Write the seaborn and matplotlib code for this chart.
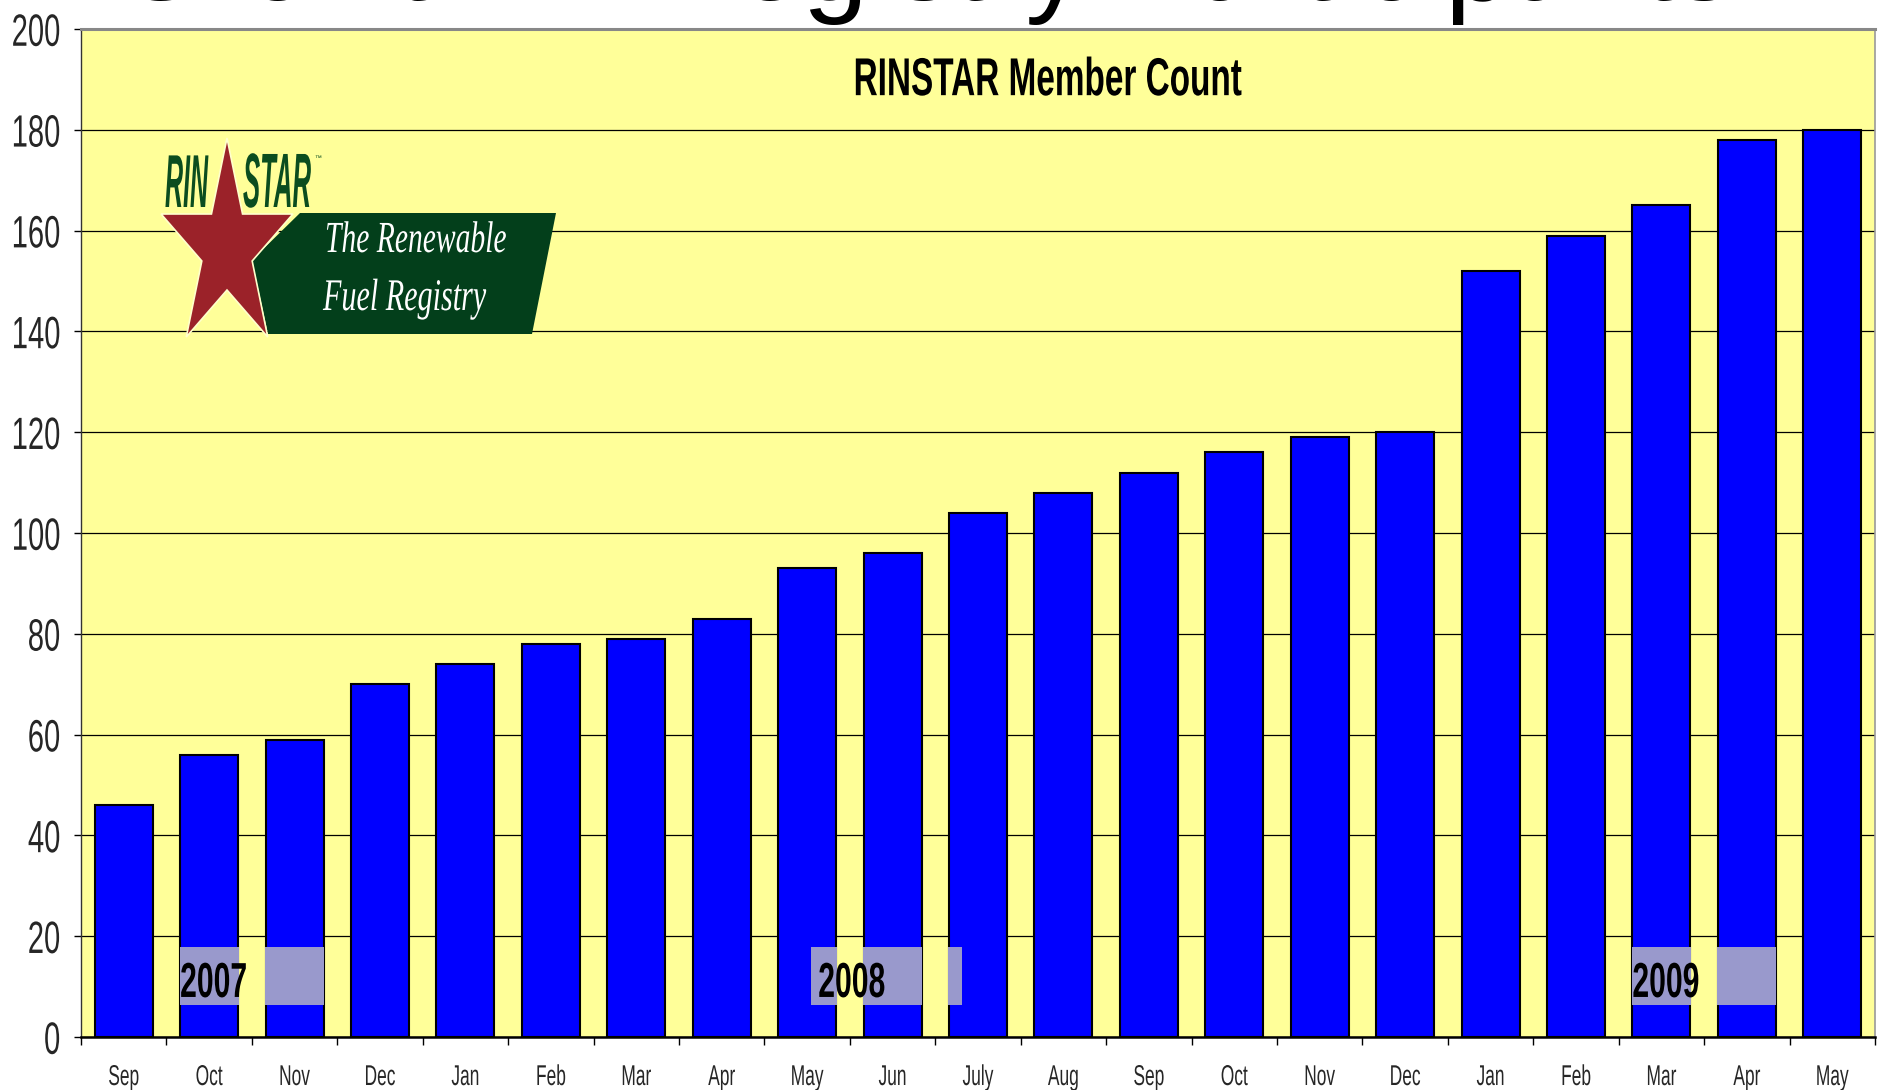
import numpy as np
import pandas as pd
import seaborn as sns
import matplotlib.pyplot as plt
from matplotlib.patches import Polygon, Rectangle
from matplotlib.transforms import Affine2D
from matplotlib import patheffects

# data
months = ['Sep', 'Oct', 'Nov', 'Dec', 'Jan', 'Feb', 'Mar', 'Apr', 'May', 'Jun', 'July', 'Aug',
          'Sep', 'Oct', 'Nov', 'Dec', 'Jan', 'Feb', 'Mar', 'Apr', 'May']
month_years = [2007] * 4 + [2008] * 12 + [2009] * 5
members = [46, 56, 59, 70, 74, 78, 79, 83, 93, 96, 104, 108,
           112, 116, 119, 120, 152, 159, 165, 178, 180]
yticks = list(range(0, 201, 20))
year_labels = ['2007', '2008', '2009']

# layout of the year tags (category units)
year_box_x = [(0.66, 2.34), (8.05, 9.81), (17.66, 19.34)]
year_box_y = (6.4, 17.8)
year_text_dx = [0.0, 0.08, 0.0]


class Stretch(patheffects.AbstractPathEffect):
    """Draw text taller than wide, like the squeezed original picture."""
    def __init__(self, sy=1.6, c=36):
        super().__init__()
        self.sy, self.c = sy, c

    def draw_path(self, renderer, gc, tpath, affine, rgbFace=None):
        t = Affine2D().translate(0, -self.c).scale(1, self.sy).translate(0, self.c)
        renderer.draw_path(gc, tpath, t + affine, rgbFace)


df = pd.DataFrame({
    'period': [f'{m} {y}' for m, y in zip(months, month_years)],
    'members': members,
})

sns.set_theme(style='white')
sans = ['Liberation Sans', 'DejaVu Sans']
serif = ['Liberation Serif', 'DejaVu Serif']
plt.rcParams['font.family'] = sans

W, H = 1878, 1090
fig = plt.figure(figsize=(W / 100, H / 100), dpi=100)
fig.patch.set_facecolor('white')
ax = fig.add_axes([81 / W, (H - 1037) / H, 1794 / W, 1008 / H])
ax.set_facecolor('#FFFF99')

sns.barplot(data=df, x='period', y='members', order=df['period'], color='#0000FF',
            saturation=1, width=0.68, edgecolor='black', linewidth=1.5, ax=ax, zorder=3)

ax.set_ylim(0, 200)
ax.set_xlim(-0.5, len(months) - 0.5)
ax.set_yticks(yticks)
ax.set_yticklabels([str(v) for v in yticks], fontsize=21)
ax.yaxis.grid(True, color='black', linewidth=0.9)
ax.set_axisbelow(True)

# ticks sit between categories, labels at the centres
ax.set_xticks(np.arange(-0.5, len(months), 1))
ax.set_xticklabels([])
ax.set_xticks(np.arange(len(months)), minor=True)
ax.set_xticklabels(months, minor=True, fontsize=12.5)
ax.tick_params(axis='x', which='major', direction='out', length=6, width=1, color='black', bottom=True)
ax.tick_params(axis='x', which='minor', length=0, pad=23)
ax.tick_params(axis='y', direction='out', length=5, width=1, color='black', left=True, pad=10)
ax.set_xlabel('')
ax.set_ylabel('')
for lbl in ax.get_yticklabels():
    lbl.set_path_effects([Stretch(1.55)])
for lbl in ax.get_xticklabels(minor=True):
    lbl.set_path_effects([Stretch(1.65)])

ax.spines['top'].set_color('#888888')
ax.spines['top'].set_linewidth(2.2)
ax.spines['right'].set_color('#999999')
ax.spines['right'].set_linewidth(1.2)
ax.spines['left'].set_color('#333333')
ax.spines['left'].set_linewidth(1)
ax.spines['bottom'].set_color('black')
ax.spines['bottom'].set_linewidth(1.8)

ax.text(0.539, 0.9415, 'RINSTAR Member Count', transform=ax.transAxes, ha='center', va='baseline',
        fontsize=24, fontweight='bold', color='black', family=sans,
        path_effects=[Stretch(1.6)])

# year tags: grey only where they cross a bar
bars = [p for p in ax.patches if isinstance(p, Rectangle)]
for label, (x0, x1), dx in zip(year_labels, year_box_x, year_text_dx):
    for b in bars:
        bl, br = b.get_x(), b.get_x() + b.get_width()
        lo, hi = max(x0, bl - 0.01), min(x1, br + 0.01)
        if hi > lo:
            ax.add_patch(Rectangle((lo, year_box_y[0]), hi - lo, year_box_y[1] - year_box_y[0],
                                   facecolor='#9999CC', edgecolor='none', zorder=4))
    ax.text(x0 + dx, 9.3, label, ha='left', va='baseline', fontsize=21.7,
            fontweight='bold', color='black', zorder=5, family=sans,
            path_effects=[Stretch(1.63)])

# slide heading cut off at the top
fig.text(114 / W, 1.0, 'Growth in Registry Participants', ha='left', va='baseline',
         fontsize=85, color='black', family=sans)

# RINSTAR logo
lax = fig.add_axes([150 / W, (H - 340) / H, 410 / W, 205 / H])
lax.set_xlim(150, 560)
lax.set_ylim(340, 135)
lax.axis('off')
lax.patch.set_alpha(0)

lax.add_patch(Polygon([(300, 213), (556, 213), (532, 334), (268, 334), (252, 260)],
                      closed=True, facecolor='#033F1B', edgecolor='none'))
cx, cy, R = 227, 248, 110
ang = np.deg2rad(90 + 36 * np.arange(10))
rad = np.where(np.arange(10) % 2 == 0, R, R * 0.382)
star = np.column_stack([cx + rad * np.cos(ang) * 0.63, cy - rad * np.sin(ang)])
lax.add_patch(Polygon(star, closed=True, facecolor='#9B2229', edgecolor='#FFFFCC', linewidth=1.2))

lax.text(165, 207, 'RIN', ha='left', va='baseline', fontsize=18, fontweight='bold',
         fontstyle='italic', color='#0B4D1F', family=sans, path_effects=[Stretch(3.0, 0)])
lax.text(243, 207, 'STAR', ha='left', va='baseline', fontsize=18.5, fontweight='bold',
         fontstyle='italic', color='#0B4D1F', family=sans, path_effects=[Stretch(3.0, 0)])
lax.text(314, 160, '™', ha='left', va='baseline', fontsize=5, color='#0B4D1F')
lax.text(325, 252, 'The Renewable', ha='left', va='baseline', fontsize=21.3, fontstyle='italic',
         color='white', family=serif, path_effects=[Stretch(1.5, 0)])
lax.text(323, 310, 'Fuel Registry', ha='left', va='baseline', fontsize=21.7, fontstyle='italic',
         color='white', family=serif, path_effects=[Stretch(1.5, 0)])

fig.savefig('out.png', dpi=100)
